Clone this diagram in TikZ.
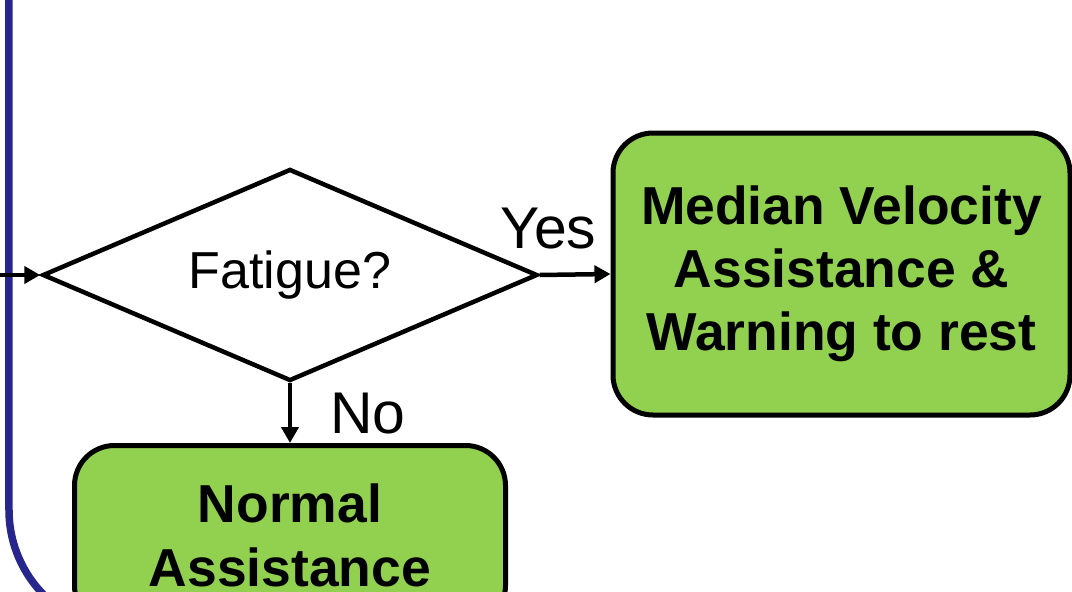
\documentclass[tikz,border=0pt]{standalone}
\usepackage{fontspec}
\setmainfont{Liberation Sans}
\usepackage{xcolor}
\definecolor{flowgreen}{RGB}{146,208,80}
\definecolor{framenavy}{RGB}{38,38,140}
\usetikzlibrary{arrows.meta,positioning,shapes.geometric}

\begin{document}
\begin{tikzpicture}[
  action/.style={draw=black, fill=flowgreen, line width=0.1cm, rounded corners=0.8cm, align=center, font=\fontsize{30.4pt}{36pt}\selectfont\bfseries},
  decide/.style={draw=black, diamond, shape aspect=2.3, line width=0.09cm, minimum width=9.9cm, minimum height=4.24cm, inner sep=0pt, font=\fontsize{29.6pt}{35pt}\selectfont},
  flow/.style={-{Triangle[length=0.32cm, width=0.34cm]}, line width=0.09cm},
  answer/.style={font=\fontsize{33.5pt}{40pt}\selectfont, inner sep=0pt}
]
  \useasboundingbox (0,0) rectangle (21.44,11.82);
  \clip (0,0) rectangle (21.44,11.82);

  % outer frame, only its left side is in view
  \draw[framenavy, line width=0.15cm, rounded corners=2.42cm] (0.18,12.5) -- (0.18,-0.8) -- (12,-0.8);

  \node[decide] (fatigue) at (5.8,6.32) {Fatigue?};
  \node[action, minimum width=9.14cm, minimum height=5.64cm] (warn) at (16.83,6.34) {Median Velocity\\Assistance \&\\Warning to rest};
  \node[action, minimum width=8.62cm, minimum height=3.6cm, anchor=north] (normal) at (5.8,2.96) {Normal\\Assistance};
  \coordinate (entry) at (0,6.32);

  \draw[flow] (entry) -- (fatigue.west);
  \draw[flow] (fatigue.east) -- node[answer, above=0.46cm, xshift=-0.54cm] {Yes} (warn.west);
  \draw[flow] (fatigue.south) -- node[answer, right=0.76cm] {No} (normal.north);
\end{tikzpicture}
\end{document}
